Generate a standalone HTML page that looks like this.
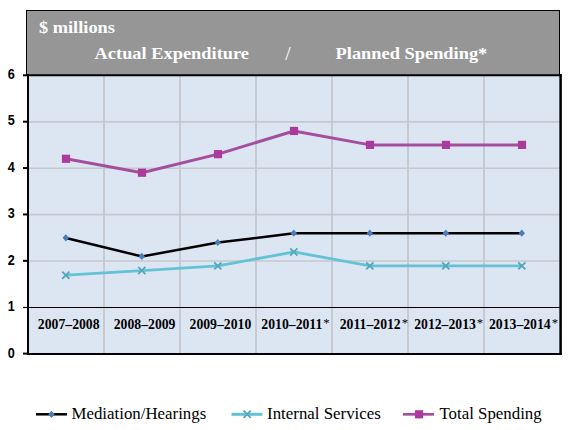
<!DOCTYPE html>
<html><head><meta charset="utf-8"><style>
html,body{margin:0;padding:0;background:#fff;width:573px;height:430px;overflow:hidden}
svg{display:block}
</style></head><body>
<svg width="573" height="430" viewBox="0 0 573 430">
<rect x="26.5" y="10.5" width="533" height="65" fill="#969696" stroke="#000" stroke-width="1"/>
<rect x="28" y="75.3" width="532" height="278.3" fill="#DCE6F3"/>
<line x1="104.00" y1="75.3" x2="104.00" y2="353.6" stroke="#C5C8CD" stroke-width="1.8"/>
<line x1="180.00" y1="75.3" x2="180.00" y2="353.6" stroke="#C5C8CD" stroke-width="1.8"/>
<line x1="256.00" y1="75.3" x2="256.00" y2="353.6" stroke="#C5C8CD" stroke-width="1.8"/>
<line x1="332.00" y1="75.3" x2="332.00" y2="353.6" stroke="#C5C8CD" stroke-width="1.8"/>
<line x1="408.00" y1="75.3" x2="408.00" y2="353.6" stroke="#C5C8CD" stroke-width="1.8"/>
<line x1="484.00" y1="75.3" x2="484.00" y2="353.6" stroke="#C5C8CD" stroke-width="1.8"/>
<line x1="28" y1="261.03" x2="560" y2="261.03" stroke="#C5C8CD" stroke-width="1.6"/>
<line x1="28" y1="214.65" x2="560" y2="214.65" stroke="#C5C8CD" stroke-width="1.6"/>
<line x1="28" y1="168.27" x2="560" y2="168.27" stroke="#C5C8CD" stroke-width="1.6"/>
<line x1="28" y1="121.88" x2="560" y2="121.88" stroke="#C5C8CD" stroke-width="1.6"/>
<line x1="28" y1="307.50" x2="560" y2="307.50" stroke="#000" stroke-width="1.2"/>
<line x1="28" y1="74.3" x2="28" y2="355" stroke="#000" stroke-width="2"/>
<line x1="27" y1="75.3" x2="561.8" y2="75.3" stroke="#000" stroke-width="2"/>
<line x1="27" y1="353.9" x2="561.8" y2="353.9" stroke="#000" stroke-width="2"/>
<line x1="560.6" y1="74.3" x2="560.6" y2="355" stroke="#000" stroke-width="2.5"/>
<line x1="23" y1="353.60" x2="28" y2="353.60" stroke="#000" stroke-width="2"/>
<text transform="translate(11.2,357.50) scale(0.9,1)" x="0" y="0" text-anchor="middle" font-family="Liberation Sans" font-weight="bold" font-size="14" fill="#000">0</text>
<line x1="23" y1="307.50" x2="28" y2="307.50" stroke="#000" stroke-width="1.2"/>
<text transform="translate(11.2,310.80) scale(0.9,1)" x="0" y="0" text-anchor="middle" font-family="Liberation Sans" font-weight="bold" font-size="14" fill="#000">1</text>
<line x1="23" y1="260.83" x2="28" y2="260.83" stroke="#000" stroke-width="2"/>
<text transform="translate(11.2,264.90) scale(0.9,1)" x="0" y="0" text-anchor="middle" font-family="Liberation Sans" font-weight="bold" font-size="14" fill="#000">2</text>
<line x1="23" y1="214.45" x2="28" y2="214.45" stroke="#000" stroke-width="2"/>
<text transform="translate(11.2,217.60) scale(0.9,1)" x="0" y="0" text-anchor="middle" font-family="Liberation Sans" font-weight="bold" font-size="14" fill="#000">3</text>
<line x1="23" y1="168.07" x2="28" y2="168.07" stroke="#000" stroke-width="2"/>
<text transform="translate(11.2,171.70) scale(0.9,1)" x="0" y="0" text-anchor="middle" font-family="Liberation Sans" font-weight="bold" font-size="14" fill="#000">4</text>
<line x1="23" y1="121.68" x2="28" y2="121.68" stroke="#000" stroke-width="2"/>
<text transform="translate(11.2,124.70) scale(0.9,1)" x="0" y="0" text-anchor="middle" font-family="Liberation Sans" font-weight="bold" font-size="14" fill="#000">5</text>
<line x1="23" y1="75.30" x2="28" y2="75.30" stroke="#000" stroke-width="2"/>
<text transform="translate(11.2,78.60) scale(0.9,1)" x="0" y="0" text-anchor="middle" font-family="Liberation Sans" font-weight="bold" font-size="14" fill="#000">6</text>
<text transform="translate(68.70,329.2) scale(0.98,1)" x="0" y="0" text-anchor="middle" font-family="Liberation Serif" font-weight="bold" font-size="14" fill="#000">2007–2008</text>
<text transform="translate(144.60,329.2) scale(0.98,1)" x="0" y="0" text-anchor="middle" font-family="Liberation Serif" font-weight="bold" font-size="14" fill="#000">2008–2009</text>
<text transform="translate(220.40,329.2) scale(0.98,1)" x="0" y="0" text-anchor="middle" font-family="Liberation Serif" font-weight="bold" font-size="14" fill="#000">2009–2010</text>
<text transform="translate(295.50,329.2) scale(0.98,1)" x="0" y="0" text-anchor="middle" font-family="Liberation Serif" font-weight="bold" font-size="14" fill="#000">2010–2011<tspan font-weight="normal" font-size="13" dx="1" dy="-2">*</tspan></text>
<text transform="translate(373.90,329.2) scale(0.98,1)" x="0" y="0" text-anchor="middle" font-family="Liberation Serif" font-weight="bold" font-size="14" fill="#000">2011–2012<tspan font-weight="normal" font-size="13" dx="1" dy="-2">*</tspan></text>
<text transform="translate(448.70,329.2) scale(0.98,1)" x="0" y="0" text-anchor="middle" font-family="Liberation Serif" font-weight="bold" font-size="14" fill="#000">2012–2013<tspan font-weight="normal" font-size="13" dx="1" dy="-2">*</tspan></text>
<text transform="translate(523.50,329.2) scale(0.98,1)" x="0" y="0" text-anchor="middle" font-family="Liberation Serif" font-weight="bold" font-size="14" fill="#000">2013–2014<tspan font-weight="normal" font-size="13" dx="1" dy="-2">*</tspan></text>
<polyline points="66.00,158.79 142.00,172.71 218.00,154.15 294.00,130.96 370.00,144.88 446.00,144.88 522.00,144.88" fill="none" stroke="#A64E9E" stroke-width="3" stroke-linejoin="round"/>
<polyline points="66.00,237.92 142.00,256.47 218.00,242.56 294.00,233.28 370.00,233.28 446.00,233.28 522.00,233.28" fill="none" stroke="#000000" stroke-width="2.5" stroke-linejoin="round"/>
<polyline points="66.00,275.17 142.00,270.53 218.00,265.89 294.00,251.97 370.00,265.89 446.00,265.89 522.00,265.89" fill="none" stroke="#64C2D6" stroke-width="2.8" stroke-linejoin="round"/>
<rect x="61.90" y="154.69" width="8.20" height="8.20" fill="#AC3A9D"/>
<rect x="137.90" y="168.61" width="8.20" height="8.20" fill="#AC3A9D"/>
<rect x="213.90" y="150.05" width="8.20" height="8.20" fill="#AC3A9D"/>
<rect x="289.90" y="126.86" width="8.20" height="8.20" fill="#AC3A9D"/>
<rect x="365.90" y="140.78" width="8.20" height="8.20" fill="#AC3A9D"/>
<rect x="441.90" y="140.78" width="8.20" height="8.20" fill="#AC3A9D"/>
<rect x="517.90" y="140.78" width="8.20" height="8.20" fill="#AC3A9D"/>
<path d="M62.60,237.84 L65.80,234.24 L69.00,237.84 L65.80,241.44 Z" fill="#4A7DB8"/>
<path d="M138.60,256.39 L141.80,252.79 L145.00,256.39 L141.80,260.00 Z" fill="#4A7DB8"/>
<path d="M214.60,242.48 L217.80,238.88 L221.00,242.48 L217.80,246.08 Z" fill="#4A7DB8"/>
<path d="M290.60,233.20 L293.80,229.60 L297.00,233.20 L293.80,236.80 Z" fill="#4A7DB8"/>
<path d="M366.60,233.20 L369.80,229.60 L373.00,233.20 L369.80,236.80 Z" fill="#4A7DB8"/>
<path d="M442.60,233.20 L445.80,229.60 L449.00,233.20 L445.80,236.80 Z" fill="#4A7DB8"/>
<path d="M518.60,233.20 L521.80,229.60 L525.00,233.20 L521.80,236.80 Z" fill="#4A7DB8"/>
<path d="M62.20,271.55 L69.40,278.75 M69.40,271.55 L62.20,278.75" stroke="#52A8BA" stroke-width="1.8"/>
<path d="M138.20,266.91 L145.40,274.11 M145.40,266.91 L138.20,274.11" stroke="#52A8BA" stroke-width="1.8"/>
<path d="M214.20,262.27 L221.40,269.47 M221.40,262.27 L214.20,269.47" stroke="#52A8BA" stroke-width="1.8"/>
<path d="M290.20,248.36 L297.40,255.56 M297.40,248.36 L290.20,255.56" stroke="#52A8BA" stroke-width="1.8"/>
<path d="M366.20,262.27 L373.40,269.47 M373.40,262.27 L366.20,269.47" stroke="#52A8BA" stroke-width="1.8"/>
<path d="M442.20,262.27 L449.40,269.47 M449.40,262.27 L442.20,269.47" stroke="#52A8BA" stroke-width="1.8"/>
<path d="M518.20,262.27 L525.40,269.47 M525.40,262.27 L518.20,269.47" stroke="#52A8BA" stroke-width="1.8"/>
<text transform="translate(38.9,33.2) scale(1.075,1)" x="0" y="0" font-family="Liberation Serif" font-weight="bold" font-size="17.1" fill="#fff">$ millions</text>
<text transform="translate(94.6,59.0) scale(1.075,1)" x="0" y="0" font-family="Liberation Serif" font-weight="bold" font-size="17.1" fill="#fff">Actual Expenditure</text>
<text transform="translate(285.3,59.9) scale(1,1)" x="0" y="0" font-family="Liberation Serif" font-size="19.5" fill="#fff">/</text>
<text transform="translate(335.6,59.0) scale(1.075,1)" x="0" y="0" font-family="Liberation Serif" font-weight="bold" font-size="17.1" fill="#fff">Planned Spending*</text>
<line x1="36" y1="414.3" x2="67" y2="414.3" stroke="#000000" stroke-width="2.5"/>
<path d="M48.30,414.30 L51.50,410.70 L54.70,414.30 L51.50,417.90 Z" fill="#4A7DB8"/>
<line x1="231.5" y1="414.3" x2="262.5" y2="414.3" stroke="#64C2D6" stroke-width="3"/>
<path d="M243.60,410.70 L250.80,417.90 M250.80,410.70 L243.60,417.90" stroke="#52A8BA" stroke-width="1.8"/>
<line x1="403" y1="414.3" x2="434" y2="414.3" stroke="#A64E9E" stroke-width="2.7"/>
<rect x="414.90" y="410.20" width="8.20" height="8.20" fill="#AC3A9D"/>
<text x="71.5" y="419.2" font-family="Liberation Serif" font-size="16.85" fill="#000">Mediation/Hearings</text>
<text x="267.1" y="419.2" font-family="Liberation Serif" font-size="16.85" fill="#000">Internal Services</text>
<text x="439.5" y="419.2" font-family="Liberation Serif" font-size="16.85" fill="#000">Total Spending</text>
</svg>
</body></html>
